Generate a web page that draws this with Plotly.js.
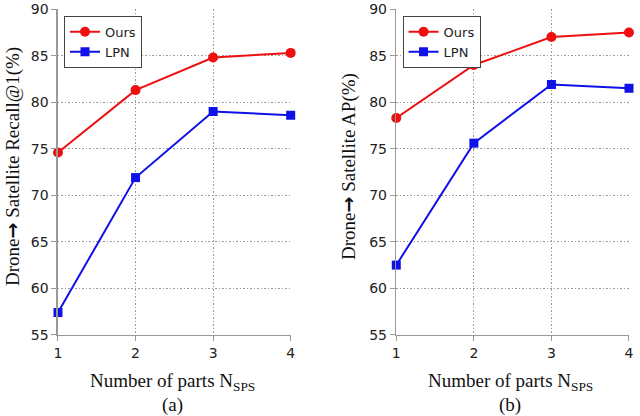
<!DOCTYPE html>
<html>
<head>
<meta charset="utf-8">
<script src="https://cdn.plot.ly/plotly-3.0.1.min.js"></script>
<style>
  html, body { margin: 0; padding: 0; background: #fff; }
  #chart { width: 640px; height: 416px; }
</style>
</head>
<body>
<div id="chart"></div>
<script>
// number of parts
const parts = [1, 2, 3, 4];

// (a) Recall@1
const recallOurs = [74.6, 81.3, 84.8, 85.3];
const recallLPN = [57.4, 71.9, 79.0, 78.6];

// (b) AP
const apOurs = [78.3, 84.0, 87.0, 87.5];
const apLPN = [62.5, 75.6, 81.9, 81.5];

const yTicks = [55, 60, 65, 70, 75, 80, 85, 90];

const red = '#ee1010';
const blue = '#1010e8';

function oursTrace(y, xa, ya, leg) {
    return {
        x: parts, y: y, name: 'Ours', mode: 'lines+markers',
        xaxis: xa, yaxis: ya, legend: leg, cliponaxis: false,
        line: { color: red, width: 2 },
        marker: { color: red, size: 10, symbol: 'circle' }
    };
}

function lpnTrace(y, xa, ya, leg) {
    return {
        x: parts, y: y, name: 'LPN', mode: 'lines+markers',
        xaxis: xa, yaxis: ya, legend: leg, cliponaxis: false,
        line: { color: blue, width: 2 },
        marker: { color: blue, size: 9, symbol: 'square' }
    };
}

const data = [
    oursTrace(recallOurs, 'x', 'y', 'legend'),
    lpnTrace(recallLPN, 'x', 'y', 'legend'),
    oursTrace(apOurs, 'x2', 'y2', 'legend2'),
    lpnTrace(apLPN, 'x2', 'y2', 'legend2')
];

const tickFont = { family: 'DejaVu Sans, sans-serif', size: 14, color: '#222' };
const serif = { family: 'Liberation Serif, Times New Roman, serif', size: 19, color: '#111' };
const arrow = '<span style="font-family:DejaVu Sans;font-weight:bold">→</span>';

function xAxis(domain, anchor) {
    return {
        domain: domain, anchor: anchor, range: [1, 4],
        tickvals: parts, ticks: 'outside', ticklen: 5, tickcolor: '#999',
        showline: true, linecolor: '#999', linewidth: 1.5,
        showgrid: true, gridcolor: '#999', griddash: '1.5px,2px', gridwidth: 1,
        zeroline: false, tickfont: tickFont
    };
}

function yAxis(anchor) {
    return {
        domain: [0.195, 0.978], anchor: anchor, range: [55, 90],
        tickvals: yTicks, ticks: 'outside', ticklen: 5, tickcolor: '#999',
        showline: true, linecolor: '#999', linewidth: 1.5,
        showgrid: true, gridcolor: '#999', griddash: '1.5px,2px', gridwidth: 1,
        zeroline: false, tickfont: tickFont
    };
}

const legendStyle = {
    yanchor: 'top', xanchor: 'left', y: 0.962,
    bgcolor: '#fff', bordercolor: '#444', borderwidth: 1,
    font: { family: 'DejaVu Sans, sans-serif', size: 13, color: '#222' },
    tracegroupgap: 0, itemwidth: 30
};

function note(text, px, py, angle) {
    return {
        text: text, xref: 'paper', yref: 'paper', x: px / 640, y: 1 - py / 416,
        xanchor: 'center', yanchor: 'middle', textangle: angle || 0,
        showarrow: false, font: serif
    };
}

const layout = {
    width: 640, height: 416,
    margin: { l: 0, r: 0, t: 0, b: 0 },
    paper_bgcolor: '#fff', plot_bgcolor: '#fff',
    xaxis: xAxis([0.0906, 0.4542], 'y'),
    yaxis: yAxis('x'),
    xaxis2: xAxis([0.6192, 0.9828], 'y2'),
    yaxis2: yAxis('x2'),
    legend: Object.assign({ x: 0.1 }, legendStyle),
    legend2: Object.assign({ x: 0.629 }, legendStyle),
    annotations: [
        note('Drone' + arrow + ' Satellite Recall@1(%)', 12, 167, -90),
        note('Drone' + arrow + ' Satellite AP(%)', 348, 167, -90),
        note('Number of parts N<sub>SPS</sub>', 172, 382),
        note('(a)', 172, 405),
        note('Number of parts N<sub>SPS</sub>', 510, 382),
        note('(b)', 510, 405)
    ]
};

Plotly.newPlot('chart', data, layout, { displayModeBar: false, staticPlot: true });
</script>
</body>
</html>
